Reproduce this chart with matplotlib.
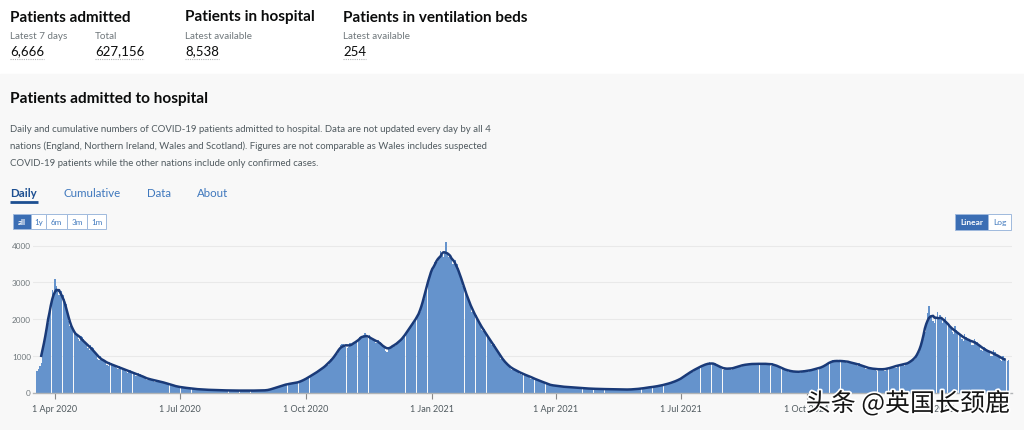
import matplotlib
matplotlib.use("Agg")
import matplotlib.pyplot as plt
import matplotlib.patheffects as pe
from matplotlib.patches import Rectangle
import pandas as pd

plt.rcParams['font.family'] = ['Lato', 'DejaVu Sans']

# daily admissions, one row per week starting Thu 19 Mar 2020
admissions = [
    580, 640, 720, 800, 1150, 1400, 1700,
    1750, 1900, 2100, 2300, 2800, 2650, 3100,
    2900, 2750, 2650, 2700, 2750, 2650, 2550,
    2400, 2150, 1950, 1800, 1750, 1700, 1650,
    1650, 1600, 1450, 1400, 1550, 1500, 1450,
    1350, 1300, 1200, 1150, 1300, 1250, 1200,
    1100, 1050, 900, 880, 1000, 950, 900,
    880, 820, 760, 730, 820, 800, 780,
    760, 720, 660, 640, 720, 700, 680,
    660, 620, 560, 540, 620, 600, 580,
    540, 520, 460, 440, 520, 500, 480,
    440, 410, 360, 340, 400, 380, 370,
    360, 340, 290, 280, 330, 320, 310,
    300, 280, 230, 220, 260, 250, 240,
    210, 195, 160, 150, 175, 165, 160,
    150, 140, 115, 110, 135, 130, 125,
    115, 108, 88, 85, 100, 98, 92,
    88, 84, 70, 68, 80, 78, 76,
    76, 72, 60, 58, 70, 68, 66,
    66, 62, 54, 52, 62, 60, 58,
    58, 56, 48, 46, 56, 55, 54,
    56, 54, 46, 45, 54, 52, 52,
    54, 52, 46, 44, 55, 54, 56,
    58, 56, 48, 46, 56, 58, 60,
    70, 75, 72, 80, 110, 125, 135,
    150, 160, 155, 170, 200, 210, 220,
    230, 240, 220, 230, 260, 255, 265,
    270, 275, 260, 280, 330, 345, 360,
    380, 400, 390, 420, 480, 500, 520,
    540, 560, 550, 580, 650, 680, 700,
    720, 760, 740, 800, 900, 920, 940,
    1000, 1060, 1050, 1150, 1280, 1310, 1330,
    1300, 1250, 1200, 1250, 1350, 1300, 1320,
    1320, 1350, 1380, 1420, 1500, 1480, 1520,
    1560, 1620, 1500, 1480, 1560, 1520, 1440,
    1460, 1420, 1360, 1340, 1420, 1380, 1360,
    1280, 1220, 1120, 1100, 1240, 1220, 1250,
    1260, 1300, 1260, 1300, 1380, 1400, 1420,
    1480, 1520, 1500, 1580, 1700, 1740, 1800,
    1850, 1920, 1880, 1950, 2080, 2150, 2200,
    2300, 2400, 2550, 2700, 2950, 3150, 3200,
    3300, 3350, 3400, 3550, 3600, 3550, 3700,
    3850, 3750, 3700, 3800, 4100, 3800, 3700,
    3750, 3650, 3500, 3550, 3600, 3500, 3400,
    3200, 3100, 2900, 2850, 2850, 2700, 2550,
    2450, 2350, 2200, 2150, 2200, 2100, 2000,
    1900, 1850, 1700, 1680, 1720, 1650, 1580,
    1500, 1430, 1300, 1280, 1320, 1260, 1200,
    1100, 1040, 920, 880, 900, 860, 800,
    760, 720, 640, 620, 660, 640, 620,
    600, 580, 500, 480, 520, 510, 500,
    480, 460, 400, 380, 420, 400, 390,
    360, 340, 290, 280, 310, 300, 290,
    250, 235, 195, 185, 210, 200, 190,
    195, 185, 160, 150, 170, 165, 160,
    160, 155, 135, 130, 145, 140, 140,
    140, 135, 115, 110, 125, 122, 120,
    120, 118, 98, 95, 110, 108, 106,
    105, 104, 90, 86, 100, 98, 96,
    98, 96, 84, 82, 94, 92, 90,
    92, 90, 78, 76, 88, 86, 84,
    86, 84, 72, 70, 84, 84, 86,
    90, 92, 84, 86, 100, 104, 108,
    115, 120, 112, 118, 140, 148, 155,
    150, 155, 140, 148, 180, 185, 195,
    200, 205, 190, 200, 240, 250, 260,
    270, 280, 265, 285, 330, 345, 360,
    380, 400, 390, 420, 500, 520, 540,
    560, 580, 560, 590, 660, 670, 690,
    700, 720, 700, 730, 780, 780, 790,
    820, 800, 770, 760, 800, 780, 760,
    700, 680, 640, 620, 680, 670, 660,
    650, 640, 620, 630, 700, 690, 700,
    720, 730, 700, 720, 770, 760, 780,
    780, 770, 740, 750, 800, 790, 800,
    790, 780, 740, 750, 810, 790, 780,
    790, 800, 740, 720, 800, 780, 760,
    740, 720, 660, 640, 680, 660, 640,
    620, 600, 560, 550, 600, 590, 580,
    570, 560, 530, 540, 590, 580, 600,
    590, 580, 560, 580, 630, 620, 640,
    640, 650, 620, 640, 700, 690, 710,
    740, 760, 740, 780, 860, 860, 880,
    860, 870, 820, 830, 880, 870, 860,
    880, 860, 800, 790, 860, 840, 830,
    800, 790, 740, 730, 790, 770, 760,
    720, 700, 650, 630, 690, 680, 670,
    660, 650, 600, 590, 660, 650, 640,
    650, 640, 590, 600, 680, 670, 690,
    700, 710, 660, 680, 760, 760, 770,
    760, 780, 720, 740, 800, 810, 830,
    860, 900, 880, 920, 1000, 1050, 1100,
    1250, 1400, 1450, 1650, 1950, 2150, 2350,
    2100, 2050, 1950, 1900, 2050, 2200, 2000,
    2100, 2000, 1900, 1950, 2050, 1950, 1850,
    1800, 1750, 1650, 1600, 1800, 1700, 1650,
    1600, 1550, 1450, 1400, 1600, 1500, 1450,
    1450, 1420, 1300, 1300, 1450, 1400, 1380,
    1320, 1280, 1150, 1120, 1250, 1200, 1180,
    1150, 1120, 1000, 980, 1150, 1100, 1060,
    1000, 980, 880, 860, 980, 950, 920,
    850, 880,
]
start_date = "2020-03-19"

tick_dates = ["2020-04-01", "2020-07-01", "2020-10-01", "2021-01-01",
              "2021-04-01", "2021-07-01", "2021-10-01", "2022-01-01"]
tick_labels = ["1 Apr 2020", "1 Jul 2020", "1 Oct 2020", "1 Jan 2021",
               "1 Apr 2021", "1 Jul 2021", "1 Oct 2021", "1 Jan 2022"]
y_ticks = [0, 1000, 2000, 3000, 4000]

headlines = ["Patients admitted", "Patients in hospital", "Patients in ventilation beds"]
stat_labels = ["Latest 7 days", "Total", "Latest available", "Latest available"]
stat_values = ["6,666", "627,156", "8,538", "254"]

description = [
    "Daily and cumulative numbers of COVID-19 patients admitted to hospital. Data are not updated every day by all 4",
    "nations (England, Northern Ireland, Wales and Scotland). Figures are not comparable as Wales includes suspected",
    "COVID-19 patients while the other nations include only confirmed cases.",
]
tabs = ["Daily", "Cumulative", "Data", "About"]
ranges = ["all", "1y", "6m", "3m", "1m"]
scales = ["Linear", "Log"]

W, H = 1024, 431
DARK = "#0b0c0c"
GREY = "#6f777b"
BTN = "#3b6eb4"

fig = plt.figure(figsize=(W / 100, H / 100), dpi=100)
fig.patch.set_facecolor("white")

# page background axes in pixel coordinates
bg = fig.add_axes([0, 0, 1, 1])
bg.set_xlim(0, W)
bg.set_ylim(H, 0)
bg.axis("off")
bg.add_patch(Rectangle((0, 75), W, H - 75, color="#f8f8f8", zorder=0))

# headline figures
for x, t in zip([10, 185, 343], headlines):
    bg.text(x, 21.5, t, fontsize=11, fontweight="bold", color=DARK, va="baseline")
value_texts = []
for x, lab, val in zip([10, 95, 185, 343], stat_labels, stat_values):
    bg.text(x, 39, lab, fontsize=7.1, color=GREY, va="baseline")
    value_texts.append(bg.text(x, 55.5, val, fontsize=9.5, color=DARK, va="baseline"))

# section title and text
bg.text(10, 103.5, "Patients admitted to hospital", fontsize=11.1, fontweight="bold",
        color=DARK, va="baseline")
for i, line in enumerate(description):
    bg.text(10, 132.5 + i * 16.7, line, fontsize=6.9, color="#505a5f", va="baseline")

tab_x = [10, 63, 147, 197]
for x, t in zip(tab_x, tabs):
    bg.text(x, 197, t, fontsize=8.3, color="#1d4f91" if t == "Daily" else "#3f78bd",
            fontweight="bold" if t == "Daily" else "normal", va="baseline")
bg.plot([10, 37.5], [202.5, 202.5], color="#1d4f91", lw=2, solid_capstyle="butt")

# range buttons
edges = [12.5, 31, 46, 66.5, 87.3, 106]
for i, r in enumerate(ranges):
    x0, x1 = edges[i], edges[i + 1]
    on = (i == 0)
    bg.add_patch(Rectangle((x0, 215), x1 - x0, 15, facecolor=BTN if on else "white",
                           edgecolor="#9fb9dd", lw=0.7, zorder=2))
    bg.text((x0 + x1) / 2, 223, r, fontsize=5.8, ha="center", va="center",
            color="white" if on else "#3f78bd", fontweight="bold" if on else "normal", zorder=3)

sedges = [955, 988, 1011]
for i, s in enumerate(scales):
    x0, x1 = sedges[i], sedges[i + 1]
    on = (i == 0)
    bg.add_patch(Rectangle((x0, 215), x1 - x0, 15.5, facecolor=BTN if on else "white",
                           edgecolor="#9fb9dd", lw=0.7, zorder=2))
    bg.text((x0 + x1) / 2, 223, s, fontsize=6, ha="center", va="center",
            color="white" if on else "#3f78bd", fontweight="bold" if on else "normal", zorder=3)

# chart
dates = pd.date_range(start_date, periods=len(admissions), freq="D")
daily = pd.Series(admissions, index=dates)
avg = daily.rolling(7, center=True).mean()

ax_bottom = H - 393.5
ax_height = 4200 * 36.75 / 1000
ax = fig.add_axes([33 / W, ax_bottom / H, (1012 - 33) / W, ax_height / H])
ax.patch.set_alpha(0)

ax.bar(dates, daily.values, width=0.95, color="#6593cc", linewidth=0, zorder=2)
ax.plot(avg.index, avg.values, color="#1a3a78", lw=1.8, zorder=3)

apr1 = pd.Timestamp("2020-04-01")
ax.set_xlim(apr1 - pd.Timedelta(days=16.0), apr1 + pd.Timedelta(days=697.5))
ax.set_ylim(0, 4200)
ax.set_yticks(y_ticks)
ax.set_yticklabels([str(v) for v in y_ticks])
ax.set_xticks([pd.Timestamp(d) for d in tick_dates])
ax.set_xticklabels(tick_labels)
ax.tick_params(axis="y", length=0, pad=1.5, labelsize=5.9, labelcolor="#6f777b")
ax.tick_params(axis="x", length=4.5, width=0.8, color="#888888", pad=3.5,
               labelsize=6.5, labelcolor="#505a5f")
for v in y_ticks[1:]:
    ax.axhline(v, color="#e9e9e9", lw=0.8, zorder=1)
for s in ["top", "right", "left"]:
    ax.spines[s].set_visible(False)
ax.spines["bottom"].set_color("#b1b4b6")
ax.spines["bottom"].set_linewidth(1)

# watermark
bg2 = fig.add_axes([0, 0, 1, 1])
bg2.set_xlim(0, W)
bg2.set_ylim(H, 0)
bg2.axis("off")
bg2.text(1010, 405, "头条 @英国长颈鹿", fontsize=18, ha="right", va="center",
         family=["Noto Sans CJK SC", "DejaVu Sans"], color="#151515",
         path_effects=[pe.withStroke(linewidth=2.5, foreground="white")])

# dotted underline below headline values
fig.canvas.draw()
inv = bg.transData.inverted()
for t in value_texts:
    bb = t.get_window_extent()
    (x0, _), (x1, _) = inv.transform([(bb.x0, bb.y0), (bb.x1, bb.y1)])
    bg.plot([x0, x1], [59.5, 59.5], color="#b1b4b6", lw=0.8, ls=(0, (1, 1)))

fig.savefig("out.png", dpi=100)
